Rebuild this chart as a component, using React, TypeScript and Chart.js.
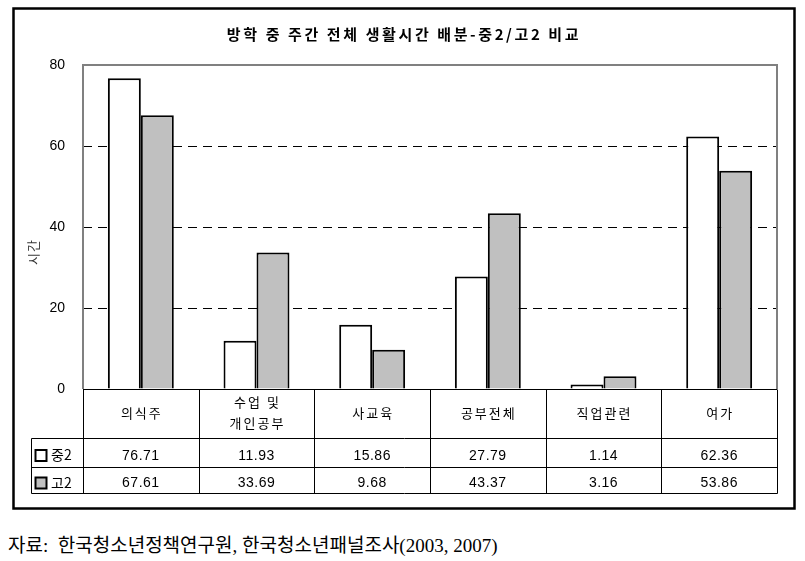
import React, { useEffect, useRef } from 'react';
import { Chart, registerables } from 'chart.js';

Chart.register(...registerables);

const chartTitle = '방학 중 주간 전체 생활시간 배분-중2/고2 비교';
const categories: string[][] = [['의식주'], ['수업 및', '개인공부'], ['사교육'], ['공부전체'], ['직업관련'], ['여가']];
const seriesNames = ['중2', '고2'];
const middle2 = [76.71, 11.93, 15.86, 27.79, 1.14, 62.36];
const high2 = [67.61, 33.69, 9.68, 43.37, 3.16, 53.86];
const yTicks = [0, 20, 40, 60, 80];
const yTitle = '시간';
const sourceText = '자료:  한국청소년정책연구원, 한국청소년패널조사(2003, 2007)';

const seriesFill = ['#ffffff', '#c0c0c0'];
const KR = '"Noto Sans CJK KR", sans-serif';
const NUM = '"Liberation Sans", Arial, sans-serif';

const tablePlugin = {
  id: 'tablePlugin',
  afterDraw(chart: any) {
    const { ctx, chartArea: a, scales } = chart;
    const x = scales.x;
    const seriesData = [middle2, high2];
    ctx.save();

    // outer frame
    ctx.strokeStyle = '#000';
    ctx.lineWidth = 2.5;
    ctx.strokeRect(13.5, 8.5, 781, 500);

    // title
    ctx.fillStyle = '#000';
    ctx.font = `bold 15px ${KR}`;
    (ctx as any).letterSpacing = '2.6px';
    ctx.textAlign = 'center';
    ctx.textBaseline = 'middle';
    ctx.fillText(chartTitle, 404, 34);
    (ctx as any).letterSpacing = '0px';

    // y title
    ctx.save();
    ctx.translate(33, 252);
    ctx.rotate(-Math.PI / 2);
    ctx.font = `13px ${KR}`;
    (ctx as any).letterSpacing = '1px';
    ctx.fillStyle = '#333';
    ctx.fillText(yTitle, 0, 0);
    ctx.restore();

    // plot border (gray)
    ctx.strokeStyle = '#808080';
    ctx.lineWidth = 2;
    ctx.beginPath();
    ctx.moveTo(a.left, a.bottom);
    ctx.lineTo(a.left, a.top);
    ctx.lineTo(a.right, a.top);
    ctx.lineTo(a.right, a.bottom);
    ctx.stroke();

    // table
    const r0 = Math.round(a.bottom) + 0.5;
    const r1 = r0 + 49;
    const r2 = r1 + 29;
    const r3 = r2 + 26;
    const legendLeft = 31.5;
    ctx.strokeStyle = '#000';
    ctx.lineWidth = 1;
    ctx.beginPath();
    ctx.moveTo(a.left, r0);
    ctx.lineTo(a.right, r0);
    [r1, r2, r3].forEach((r) => {
      ctx.moveTo(legendLeft, r);
      ctx.lineTo(Math.round(a.right) + 0.5, r);
    });
    ctx.moveTo(legendLeft, r1);
    ctx.lineTo(legendLeft, r3);
    for (let i = 0; i <= categories.length; i++) {
      const bx = Math.round(x.getPixelForValue(i - 0.5)) + 0.5;
      ctx.moveTo(bx, r0);
      ctx.lineTo(bx, r3);
    }
    ctx.stroke();

    // category labels
    ctx.fillStyle = '#000';
    ctx.textAlign = 'center';
    ctx.textBaseline = 'middle';
    categories.forEach((lines, i) => {
      const cx = x.getPixelForValue(i);
      ctx.font = `13px ${KR}`;
      (ctx as any).letterSpacing = '2px';
      if (lines.length === 1) {
        ctx.fillText(lines[0], cx + 1, (r0 + r1) / 2 - 1);
      } else {
        ctx.fillText(lines[0], cx + 1, r0 + 13);
        ctx.fillText(lines[1], cx + 1, r0 + 34);
      }
    });

    // values
    (ctx as any).letterSpacing = '0.5px';
    ctx.font = `14px ${NUM}`;
    const rowMid = [(r1 + r2) / 2 + 3, (r2 + r3) / 2 + 3];
    seriesData.forEach((vals, s) => {
      vals.forEach((v, i) => {
        ctx.fillText(v.toFixed(2), x.getPixelForValue(i), rowMid[s]);
      });
    });

    // legend keys
    seriesNames.forEach((name, s) => {
      const y = rowMid[s];
      ctx.fillStyle = seriesFill[s];
      ctx.fillRect(35.5, y - 6, 11, 11);
      ctx.strokeStyle = '#000';
      ctx.lineWidth = 2;
      ctx.strokeRect(35.5, y - 6, 11, 11);
      ctx.fillStyle = '#000';
      ctx.textAlign = 'left';
      ctx.font = `14px ${KR}`;
      (ctx as any).letterSpacing = '0px';
      ctx.fillText(name, 51, y - 1);
    });

    ctx.restore();
  },
};

export default function App() {
  const ref = useRef<HTMLCanvasElement | null>(null);

  useEffect(() => {
    if (!ref.current) return;
    const chart = new Chart(ref.current, {
      type: 'bar',
      data: {
        labels: categories.map((c) => c.join(' ')),
        datasets: [
          {
            label: seriesNames[0],
            data: middle2,
            backgroundColor: seriesFill[0],
            borderColor: '#000',
            borderWidth: 2,
            categoryPercentage: 0.57,
            barPercentage: 1,
          },
          {
            label: seriesNames[1],
            data: high2,
            backgroundColor: seriesFill[1],
            borderColor: '#000',
            borderWidth: 2,
            categoryPercentage: 0.57,
            barPercentage: 1,
          },
        ],
      },
      options: {
        animation: false,
        responsive: true,
        maintainAspectRatio: false,
        layout: { padding: { top: 65, right: 28, bottom: 126, left: 0 } },
        plugins: {
          legend: { display: false },
          title: { display: false },
          tooltip: { enabled: false },
        },
        scales: {
          x: { display: false },
          y: {
            min: 0,
            max: 80,
            afterBuildTicks: (scale: any) => {
              scale.ticks = yTicks.map((v) => ({ value: v }));
            },
            afterFit: (scale: any) => {
              scale.width = 83;
            },
            ticks: {
              padding: 18,
              color: '#000',
              font: { family: NUM, size: 14 },
            },
            grid: {
              drawTicks: false,
              color: (c: any) =>
                c.tick && (c.tick.value === 0 || c.tick.value === 80) ? 'rgba(0,0,0,0)' : '#000',
              lineWidth: 1,
            },
            border: { display: false, dash: [9, 6] },
          },
        },
      },
      plugins: [tablePlugin],
    });
    return () => chart.destroy();
  }, []);

  return (
    <div style={{ position: 'absolute', left: 0, top: 0, width: 805, height: 561, background: '#fff' }}>
      <div style={{ position: 'relative', width: 805, height: 515 }}>
        <canvas ref={ref} />
      </div>
      <div
        style={{
          position: 'absolute',
          left: 8,
          top: 536,
          fontFamily: '"Liberation Serif", "Noto Sans CJK KR", serif',
          fontSize: 19,
          lineHeight: '20px',
          whiteSpace: 'pre',
          color: '#000',
        }}
      >
        {sourceText}
      </div>
    </div>
  );
}
